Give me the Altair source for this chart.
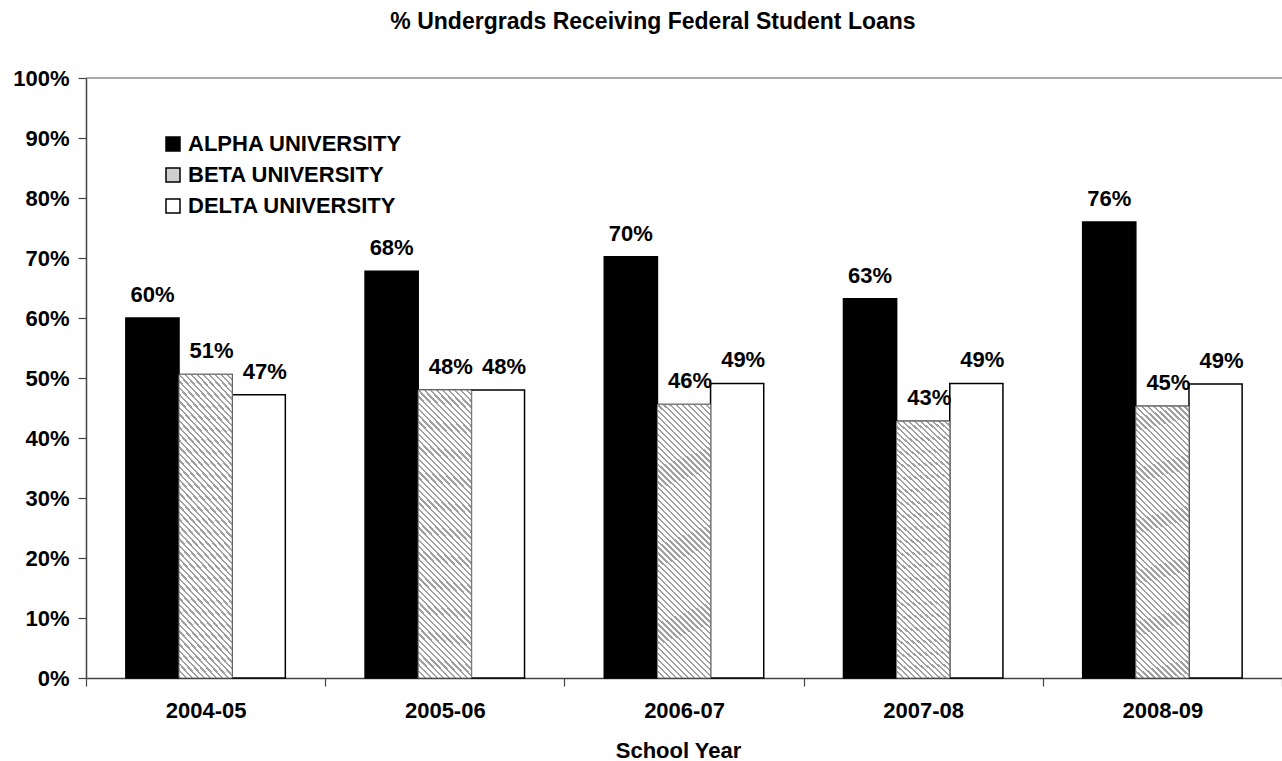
import altair as alt
import pandas as pd

years = ["2004-05", "2005-06", "2006-07", "2007-08", "2008-09"]
series = ["ALPHA UNIVERSITY", "BETA UNIVERSITY", "DELTA UNIVERSITY"]
alpha = [0.600, 0.678, 0.702, 0.632, 0.760]
beta = [0.506, 0.480, 0.456, 0.428, 0.453]
delta = [0.472, 0.480, 0.491, 0.491, 0.490]
y_ticks = [0.0, 0.1, 0.2, 0.3, 0.4, 0.5, 0.6, 0.7, 0.8, 0.9, 1.0]

rows = []
for s, vals in zip(series, [alpha, beta, delta]):
    for yr, v in zip(years, vals):
        rows.append({"year": yr, "series": s, "value": v})
df = pd.DataFrame(rows)

FONT = "Arial, Liberation Sans, sans-serif"
FS = 22

xenc = alt.X(
    "year:N",
    sort=years,
    scale=alt.Scale(paddingInner=0, paddingOuter=0),
    axis=alt.Axis(
        title="School Year",
        labelAngle=0,
        tickBand="extent",
        tickSize=8,
        labelPadding=14,
        titleX=592,
        titleY=79,
        titleBaseline="alphabetic",
    ),
)
xoff = alt.XOffset("series:N", sort=series, scale=alt.Scale(paddingInner=0, paddingOuter=0.75))
yscale = alt.Scale(domain=[0, 1])
yenc = alt.Y(
    "value:Q",
    scale=yscale,
    axis=alt.Axis(format=".0%", values=y_ticks, tickSize=8, labelPadding=9, grid=False),
    title=None,
)

bars = alt.Chart(df).mark_bar(stroke="black", strokeWidth=1.5).encode(
    x=xenc,
    xOffset=xoff,
    y=yenc,
    color=alt.Color(
        "series:N",
        sort=series,
        scale=alt.Scale(domain=series, range=["black", "#cfcfcf", "white"]),
        legend=alt.Legend(
            title=None,
            orient="none",
            legendX=76,
            legendY=55,
            symbolType="square",
            symbolSize=196,
            symbolStrokeColor="black",
            symbolStrokeWidth=1.5,
            symbolOpacity=1,
            labelFont=FONT,
            labelFontSize=FS,
            labelFontWeight="bold",
            labelColor="black",
            labelOffset=4,
            rowPadding=9,
            padding=0,
            labelLimit=400,
        ),
    ),
)

# diagonal hatch for the BETA bars, built as a striped linear gradient
r = 5.24
k = (1 + r) / (1 + r * r)
N = 55
stops = []
for i in range(N):
    a = i / N
    b = (i + 0.38) / N
    c = (i + 1) / N
    stops += [
        alt.GradientStop(color="#a0a0a0", offset=a),
        alt.GradientStop(color="#a0a0a0", offset=b),
        alt.GradientStop(color="#ffffff", offset=b),
        alt.GradientStop(color="#ffffff", offset=c),
    ]
hatch = alt.LinearGradient(gradient="linear", stops=stops, x1=0, y1=1, x2=k, y2=1 - k * r)

beta_bars = alt.Chart(df).transform_filter(
    alt.datum.series == "BETA UNIVERSITY"
).mark_bar(fill=hatch, stroke="#808080", strokeWidth=1).encode(
    x=alt.X("year:N", sort=years),
    xOffset=alt.XOffset("series:N", sort=series),
    y=alt.Y("value:Q"),
)

text_base = alt.Chart(df).transform_calculate(lab="format(datum.value, '.0%')")

labels_alpha = text_base.transform_filter(
    alt.datum.series == "ALPHA UNIVERSITY"
).mark_text(font=FONT, fontSize=FS, fontWeight="bold", color="black", dy=-23, baseline="middle").encode(
    x=alt.X("year:N", sort=years),
    xOffset=alt.XOffset("series:N", sort=series),
    y=alt.Y("value:Q"),
    text="lab:N",
)
labels_other = text_base.transform_filter(
    alt.datum.series != "ALPHA UNIVERSITY"
).mark_text(font=FONT, fontSize=FS, fontWeight="bold", color="black", dy=-23, dx=6, baseline="middle").encode(
    x=alt.X("year:N", sort=years),
    xOffset=alt.XOffset("series:N", sort=series),
    y=alt.Y("value:Q"),
    text="lab:N",
)

top_rule = alt.Chart(pd.DataFrame({"v": [1.0]})).mark_rule(color="#555555", strokeWidth=1.2).encode(
    y=alt.Y("v:Q", scale=yscale)
)

chart = alt.layer(bars, beta_bars, labels_alpha, labels_other, top_rule).properties(
    width=1196,
    height=600,
    autosize=alt.AutoSizeParams(type="none"),
    padding={"left": 86, "top": 78, "right": 0, "bottom": 83},
    title=alt.Title(
        "% Undergrads Receiving Federal Student Loans",
        font=FONT,
        fontSize=23,
        fontWeight="bold",
        color="black",
        anchor="middle",
        frame="group",
        offset=15,
        dx=-31,
        baseline="alphabetic",
    ),
).configure_axis(
    labelFont=FONT,
    labelFontSize=FS,
    labelFontWeight="bold",
    labelColor="black",
    titleFont=FONT,
    titleFontSize=FS,
    titleFontWeight="bold",
    titleColor="black",
    domainColor="#444444",
    domainWidth=1.5,
    tickColor="#444444",
    tickWidth=1.2,
    grid=False,
).configure_view(strokeWidth=0)

chart.save("out.html", embed_options={"renderer": "svg", "actions": False})
